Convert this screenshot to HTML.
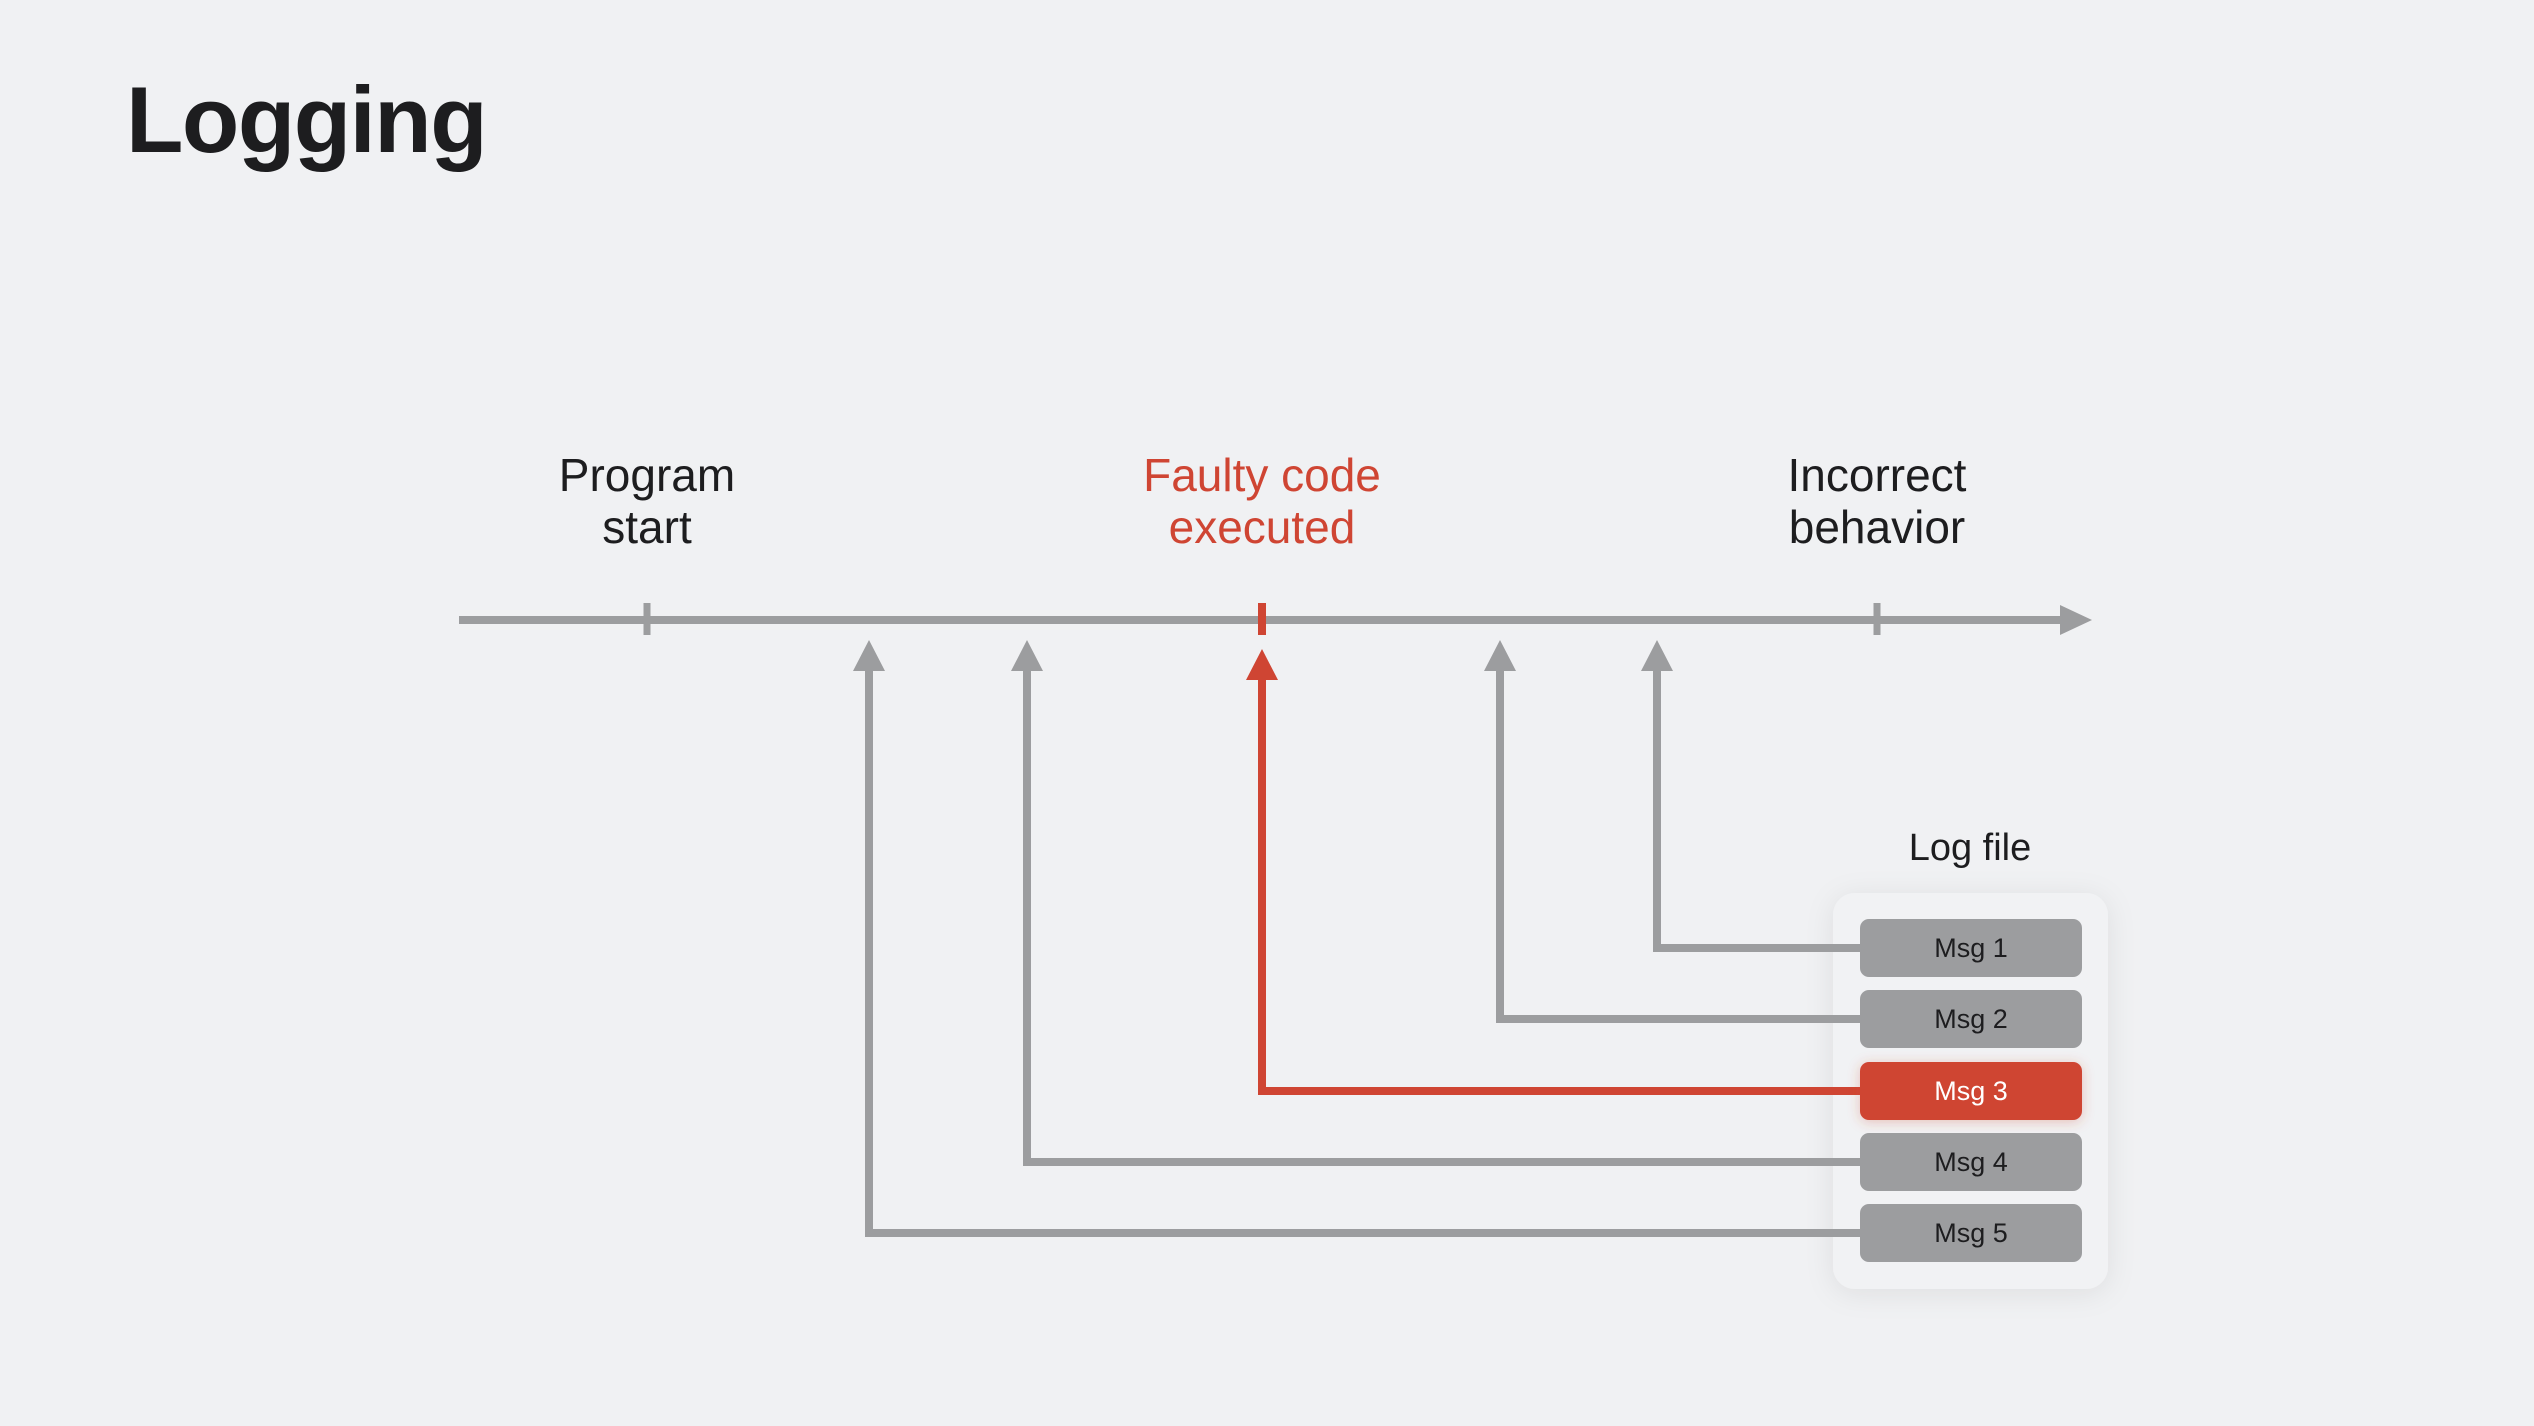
<!DOCTYPE html>
<html><head><style>
body{margin:0;width:2534px;height:1426px;background:#f0f1f3;overflow:hidden;font-family:"Liberation Sans",sans-serif;}
</style></head><body>
<svg width="2534" height="1426" xmlns="http://www.w3.org/2000/svg" style="position:absolute;left:0;top:0">
<defs><filter id="sh" x="-30%" y="-30%" width="160%" height="160%"><feDropShadow dx="0" dy="4" stdDeviation="14" flood-color="#000" flood-opacity="0.08"/></filter>
<filter id="rs" x="-30%" y="-50%" width="160%" height="200%"><feDropShadow dx="0" dy="2" stdDeviation="6" flood-color="#cf4533" flood-opacity="0.3"/></filter></defs>
<text x="126" y="152" font-size="94" font-weight="bold" fill="#1d1d1f" letter-spacing="-1.5">Logging</text>
<g font-size="46" text-anchor="middle" fill="#1d1d1f">
<text x="647" y="491">Program</text><text x="647" y="543">start</text>
<text x="1262" y="491" fill="#cf4533">Faulty code</text><text x="1262" y="543" fill="#cf4533">executed</text>
<text x="1877" y="491">Incorrect</text><text x="1877" y="543">behavior</text>
<text x="1970" y="860" font-size="38">Log file</text>
</g>
<line x1="459" y1="620" x2="2065" y2="620" stroke="#9c9d9f" stroke-width="8"/>
<polygon points="2060,605 2092,620 2060,635" fill="#9c9d9f"/>
<line x1="647" y1="603" x2="647" y2="635" stroke="#9c9d9f" stroke-width="7"/>
<line x1="1877" y1="603" x2="1877" y2="635" stroke="#9c9d9f" stroke-width="7"/>
<line x1="1262" y1="603" x2="1262" y2="635" stroke="#cf4533" stroke-width="8"/>
<rect x="1833" y="893" width="275" height="396" rx="22" fill="#f1f2f4" filter="url(#sh)"/>
<g fill="none" stroke="#9c9d9f" stroke-width="8">
<polyline points="1862,948 1657,948 1657,665"/>
<polyline points="1862,1019 1500,1019 1500,665"/>
<polyline points="1862,1162 1027,1162 1027,665"/>
<polyline points="1862,1233 869,1233 869,665"/>
</g>
<polyline points="1862,1091 1262,1091 1262,675" fill="none" stroke="#cf4533" stroke-width="8"/>
<g fill="#9c9d9f">
<polygon points="1657,640 1641,671 1673,671"/>
<polygon points="1500,640 1484,671 1516,671"/>
<polygon points="1027,640 1011,671 1043,671"/>
<polygon points="869,640 853,671 885,671"/>
</g>
<polygon points="1262,649 1246,680 1278,680" fill="#cf4533"/>
<g font-size="27" text-anchor="middle" fill="#1d1d1f">
<rect x="1860" y="919" width="222" height="58" rx="9" fill="#9c9d9f"/><text x="1971" y="957">Msg 1</text>
<rect x="1860" y="990" width="222" height="58" rx="9" fill="#9c9d9f"/><text x="1971" y="1028">Msg 2</text>
<rect x="1860" y="1062" width="222" height="58" rx="9" fill="#cf4533" filter="url(#rs)"/><text x="1971" y="1100" fill="#fff">Msg 3</text>
<rect x="1860" y="1133" width="222" height="58" rx="9" fill="#9c9d9f"/><text x="1971" y="1171">Msg 4</text>
<rect x="1860" y="1204" width="222" height="58" rx="9" fill="#9c9d9f"/><text x="1971" y="1242">Msg 5</text>
</g>
</svg>
</body></html>
